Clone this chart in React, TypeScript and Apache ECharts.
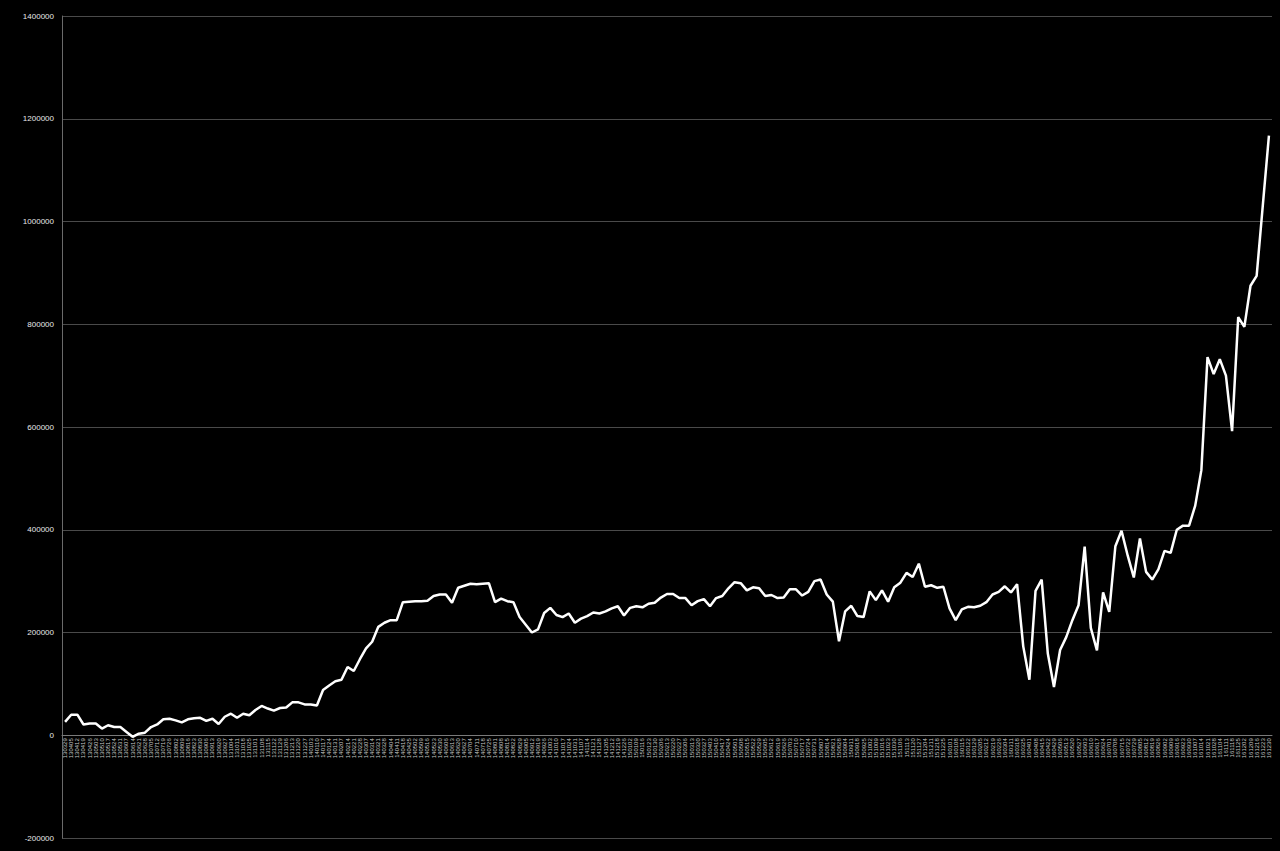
import React, { useEffect, useRef } from "react";
import * as echarts from "echarts";

const dates: string[] = [
  "130329",
  "130405", "130412", "130419", "130426",
  "130503", "130510", "130517", "130524", "130531",
  "130607", "130614", "130621", "130628",
  "130705", "130712", "130719", "130726",
  "130802", "130809", "130816", "130823", "130830",
  "130906", "130913", "130920", "130927",
  "131004", "131011", "131018", "131025",
  "131101", "131108", "131115", "131122", "131129",
  "131206", "131213", "131220", "131227",
  "140103", "140110", "140117", "140124", "140131",
  "140207", "140214", "140221", "140228",
  "140307", "140314", "140321", "140328",
  "140404", "140411", "140418", "140425",
  "140502", "140509", "140516", "140523", "140530",
  "140606", "140613", "140620", "140627",
  "140704", "140711", "140718", "140725",
  "140801", "140808", "140815", "140822", "140829",
  "140905", "140912", "140919", "140926",
  "141003", "141010", "141017", "141024", "141031",
  "141107", "141114", "141121", "141128",
  "141205", "141212", "141219", "141226",
  "150102", "150109", "150116", "150123", "150130",
  "150206", "150213", "150220", "150227",
  "150306", "150313", "150320", "150327",
  "150403", "150410", "150417", "150424",
  "150501", "150508", "150515", "150522", "150529",
  "150605", "150612", "150619", "150626",
  "150703", "150710", "150717", "150724", "150731",
  "150807", "150814", "150821", "150828",
  "150904", "150911", "150918", "150925",
  "151002", "151009", "151016", "151023", "151030",
  "151106", "151113", "151120", "151127",
  "151204", "151211", "151218", "151225",
  "160101", "160108", "160115", "160122", "160129",
  "160205", "160212", "160219", "160226",
  "160304", "160311", "160318", "160325",
  "160401", "160408", "160415", "160422", "160429",
  "160506", "160513", "160520", "160527",
  "160603", "160610", "160617", "160624",
  "160701", "160708", "160715", "160722", "160729",
  "160805", "160812", "160819", "160826",
  "160902", "160909", "160916", "160923", "160930",
  "161007", "161014", "161021", "161028",
  "161104", "161111", "161118", "161125",
  "161202", "161209", "161216", "161223", "161230",
];

const values2013: number[] = [
  26000, 40000, 40000, 21000, 23000, 23000, 13000, 19500, 16000, 16000,
  6500, -3000, 3000, 5000, 16000, 21000, 31000, 32000, 29000, 25000,
  31000, 33000, 34000, 28000, 32000, 22000, 36000, 42000, 34000, 42000,
  39000, 49000, 57000, 52000, 48000, 53000, 54000, 64000, 64000, 60000,
];

const values2014: number[] = [
  60000, 58000, 88000, 97000, 105000, 108000, 133000, 125000, 148000, 169000,
  182000, 211000, 219000, 224000, 224000, 259000, 260000, 261000, 261000, 262000,
  271000, 274000, 274000, 258000, 287000, 291000, 295000, 294000, 295000, 296000,
  259000, 266000, 261000, 259000, 230000, 215000, 200000, 206000, 238000, 248000,
  234000, 230000, 237000, 219000, 227000, 232000, 239000, 237000, 241000, 247000,
  251000, 233000,
];

const values2015: number[] = [
  248000, 251000, 249000, 256000, 258000, 268000, 275000, 275000, 267000, 267000,
  253000, 261000, 265000, 251000, 267000, 271000, 286000, 298000, 296000, 282000,
  288000, 286000, 271000, 273000, 267000, 268000, 284000, 284000, 272000, 279000,
  300000, 303000, 274000, 260000, 183000, 241000, 252000, 232000, 230000, 280000,
  263000, 282000, 260000, 288000, 297000, 316000, 308000, 334000, 289000, 292000,
  287000, 289000,
];

const values2016: number[] = [
  247000, 224000, 245000, 250000, 249000, 252000, 259000, 274000, 279000, 290000,
  278000, 294000, 173000, 108000, 281000, 303000, 159000, 94000, 166000, 191000,
  224000, 253000, 367000, 209000, 165000, 278000, 240000, 368000, 398000, 350000,
  307000, 383000, 318000, 303000, 323000, 359000, 355000, 400000, 408000, 408000,
  447000, 516000, 736000, 703000, 732000, 700000, 592000, 814000, 795000, 875000,
  894000, 1031000, 1167000,
];

const yTicks = { min: -200000, max: 1400000, interval: 200000 };

const values: number[] = [...values2013, ...values2014, ...values2015, ...values2016];

export default function App() {
  const ref = useRef<HTMLDivElement>(null);
  useEffect(() => {
    if (!ref.current) return;
    const chart = echarts.init(ref.current, undefined, { renderer: "svg" });
    const gridTop = 16;
    const gridBottom = 13;
    const gridHeight = 851 - gridTop - gridBottom;
    const zeroOffset = (gridHeight * (0 - yTicks.min)) / (yTicks.max - yTicks.min);
    chart.setOption({
      animation: false,
      backgroundColor: "#000000",
      grid: {
        left: 62,
        right: 8,
        top: gridTop,
        bottom: gridBottom,
        containLabel: false,
        outerBoundsMode: "none",
      },
      xAxis: {
        type: "category",
        data: dates,
        boundaryGap: true,
        position: "bottom",
        offset: -zeroOffset,
        axisLine: { onZero: false, lineStyle: { color: "#7a7a7a", width: 1 } },
        axisTick: { show: false },
        axisLabel: {
          interval: 0,
          rotate: 90,
          fontSize: 6,
          color: "#c8c8c8",
          margin: 3,
          fontFamily: "Liberation Sans",
        },
        splitLine: { show: false },
      },
      yAxis: {
        type: "value",
        min: yTicks.min,
        max: yTicks.max,
        interval: yTicks.interval,
        axisLine: { show: true, lineStyle: { color: "#6a6a6a", width: 1 } },
        axisTick: { show: false },
        axisLabel: {
          color: "#e8e8e8",
          fontSize: 8,
          margin: 8,
          fontFamily: "Liberation Sans",
          formatter: (v: number) => String(v),
        },
        splitLine: { show: true, lineStyle: { color: "#4a4a4a", width: 1 } },
      },
      series: [
        {
          type: "line",
          data: values,
          symbol: "none",
          lineStyle: { color: "#ffffff", width: 2.5 },
          itemStyle: { color: "#ffffff" },
        },
      ],
    });
    return () => chart.dispose();
  }, []);
  return (
    <div
      ref={ref}
      style={{ position: "absolute", left: 0, top: 0, width: 1280, height: 851, background: "#000" }}
    />
  );
}
